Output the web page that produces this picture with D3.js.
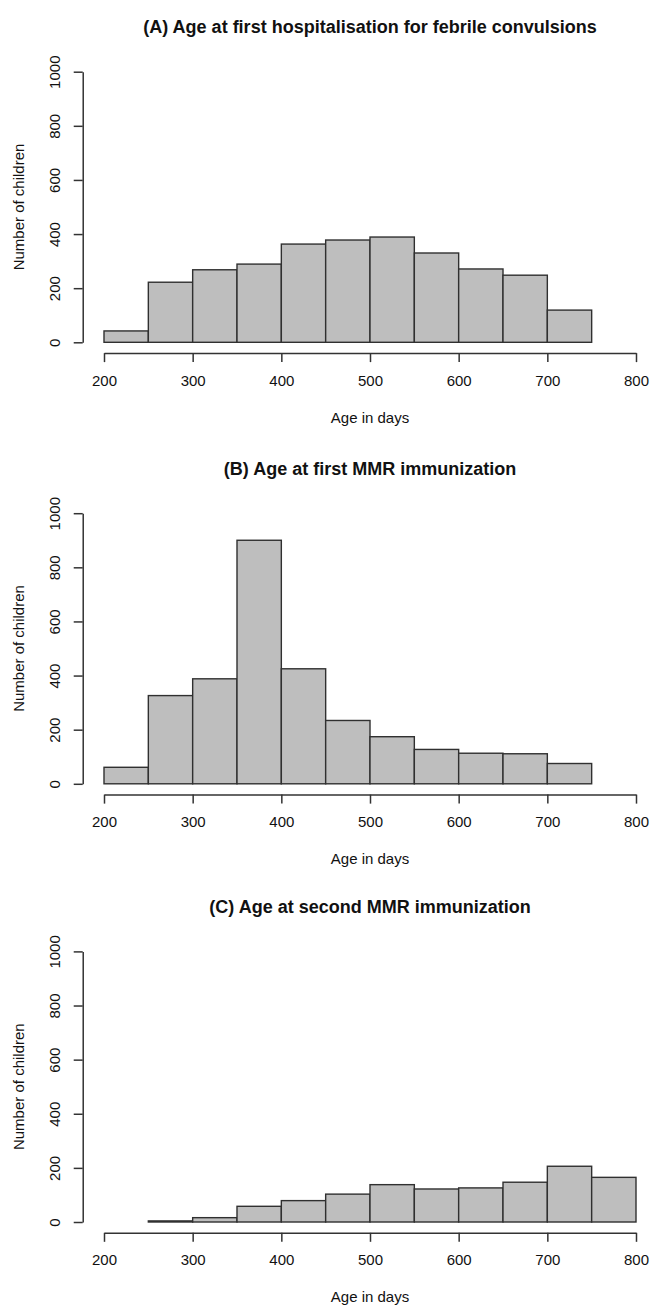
<!DOCTYPE html>
<html>
<head>
<meta charset="utf-8">
<script src="https://cdn.jsdelivr.net/npm/d3@7"></script>
<style>
  body { margin: 0; background: #fff; }
  svg { display: block; font-family: "Liberation Sans", Arial, sans-serif; }
</style>
</head>
<body>
<svg id="chart" width="651" height="1305"></svg>
<script>
const width = 651;
const height = 1305;

// bin edges (days) and counts
const edgesAB = [200, 250, 300, 350, 400, 450, 500, 550, 600, 650, 700, 750];
const edgesC = [250, 300, 350, 400, 450, 500, 550, 600, 650, 700, 750, 800];
const countsA = [42, 222, 268, 289, 363, 378, 389, 330, 271, 248, 119];
const countsB = [61, 326, 388, 900, 425, 234, 174, 127, 113, 111, 75];
const countsC = [4, 16, 58, 79, 103, 138, 122, 126, 147, 206, 165];

const titles = [
  "(A) Age at first hospitalisation for febrile convulsions",
  "(B) Age at first MMR immunization",
  "(C) Age at second MMR immunization"
];
const xTicks = [200, 300, 400, 500, 600, 700, 800];
const yTicks = [0, 200, 400, 600, 800, 1000];

const panels = [
  { title: titles[0], edges: edgesAB, counts: countsA, zeroY: 342.3 },
  { title: titles[1], edges: edgesAB, counts: countsB, zeroY: 783.8 },
  { title: titles[2], edges: edgesC, counts: countsC, zeroY: 1222 }
];

const plotH = 270.6;
const svg = d3.select("svg#chart");

const x = d3.scaleLinear().domain([200, 800]).range([104, 636]);

panels.forEach(p => {
  const y = d3.scaleLinear().domain([0, 1000]).range([p.zeroY, p.zeroY - plotH]);
  const g = svg.append("g");

  const bins = p.counts.map((c, i) => ({ x0: p.edges[i], x1: p.edges[i + 1], n: c }));

  g.append("g")
    .selectAll("rect")
    .data(bins)
    .join("rect")
    .attr("x", d => x(d.x0))
    .attr("y", d => y(d.n))
    .attr("width", d => x(d.x1) - x(d.x0))
    .attr("height", d => y(0) - y(d.n))
    .attr("fill", "#bebebe")
    .attr("stroke", "#303030")
    .attr("stroke-width", 1.4);

  // x axis, R style (offset below the bars)
  const xa = g.append("g")
    .attr("transform", `translate(0,${y(-40)})`)
    .call(d3.axisBottom(x).tickValues(xTicks).tickSize(9).tickSizeOuter(0).tickFormat(d3.format("d")));
  xa.selectAll("text")
    .attr("y", 22)
    .attr("dy", "0.71em")
    .attr("font-size", 15)
    .attr("fill", "#111");

  // y axis
  const ya = g.append("g")
    .attr("transform", `translate(${x(176)},0)`)
    .call(d3.axisLeft(y).tickValues(yTicks).tickSize(9).tickSizeOuter(0).tickFormat(d3.format("d")));
  ya.selectAll("text")
    .attr("transform", "rotate(-90)")
    .attr("x", 0)
    .attr("y", -28)
    .attr("dy", "0.36em")
    .attr("text-anchor", "middle")
    .attr("font-size", 15)
    .attr("fill", "#111");

  [xa, ya].forEach(a => {
    a.select(".domain").attr("stroke", "#333").attr("stroke-width", 1.5);
    a.selectAll(".tick line").attr("stroke", "#333").attr("stroke-width", 1.5);
  });

  // titles and labels
  g.append("text")
    .attr("x", x(500))
    .attr("y", y(1000) - 45)
    .attr("dy", "0.36em")
    .attr("text-anchor", "middle")
    .attr("font-size", 18)
    .attr("font-weight", "bold")
    .attr("fill", "#111")
    .text(p.title);

  g.append("text")
    .attr("x", x(500))
    .attr("y", y(0) + 75)
    .attr("dy", "0.36em")
    .attr("text-anchor", "middle")
    .attr("font-size", 15)
    .attr("fill", "#111")
    .text("Age in days");

  g.append("text")
    .attr("transform", `translate(19,${y(500)}) rotate(-90)`)
    .attr("dy", "0.36em")
    .attr("text-anchor", "middle")
    .attr("font-size", 15)
    .attr("fill", "#111")
    .text("Number of children");
});
</script>
</body>
</html>
